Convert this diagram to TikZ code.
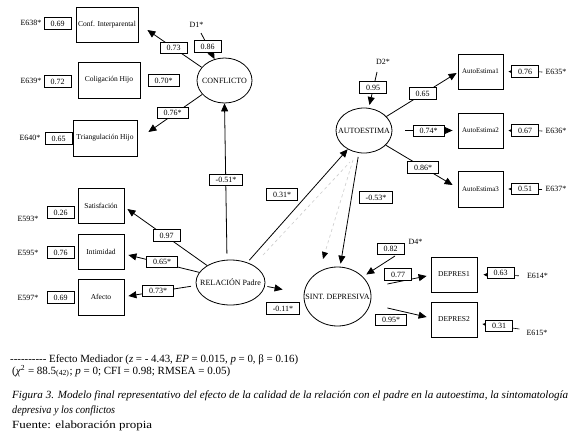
\documentclass[tikz,border=0pt]{standalone}
\usepackage{fontspec}
\setmainfont{Liberation Serif}
\usepackage{graphicx}
\usetikzlibrary{shapes.geometric,arrows.meta,calc}
\newcommand\myfs[1]{\fontsize{#1}{#1}\selectfont}
\newcommand\hy{-\kern0pt}
\begin{document}
\begin{tikzpicture}[x=1pt,y=-1pt,
 ind/.style={draw, line width=0.8pt, inner sep=0pt, font=\myfs{7.5}},
 val/.style={draw, line width=0.7pt, fill=white, inner xsep=6.5pt, inner ysep=0pt, minimum height=11.5pt, font=\myfs{8}},
 lat/.style={draw, ellipse, line width=0.8pt, inner sep=0pt, font=\myfs{8}},
 lab/.style={font=\myfs{8}, inner sep=0pt},
 arr/.style={line width=0.8pt, -{Triangle[length=8pt,width=7pt]}},
 sarr/.style={line width=0.6pt, -{Triangle[length=4.5pt,width=4pt]}},
 med/.style={line width=0.6pt, dash pattern=on 3pt off 3pt, draw=black!20},
 captext/.style={anchor=base west, inner sep=0pt, font=\myfs{11}},
]
\path[use as bounding box, fill=white] (0,0) rectangle (580,439);

% latent variables
\node[lat, minimum width=55pt, minimum height=45pt] (conf) at (224.5,80.5) {\makebox[0pt]{CONFLICTO}};
\node[lat, minimum width=56pt, minimum height=45pt] (auto) at (364,130.5) {\makebox[0pt]{AUTOESTIMA}};
\node[lat, minimum width=69pt, minimum height=45pt] (rel) at (230.5,282.5) {\makebox[0pt]{RELACIÓN Padre}};
\node[lat, minimum width=67pt, minimum height=59pt] (sint) at (337.5,296.5) {\makebox[0pt]{SINT. DEPRESIVA}};

% indicators
\node[ind, minimum width=62pt, minimum height=35pt] (ci) at (107,24.5) {Conf. Interparental};
\node[ind, minimum width=62pt, minimum height=36pt] (cole) at (109,80) {Coligación Hijo};
\node[ind, minimum width=64pt, minimum height=36pt] (tri) at (105,138) {Triangulación Hijo};
\node[ind, minimum width=46pt, minimum height=35pt] (sat) at (101,205.5) {Satisfación};
\node[ind, minimum width=46pt, minimum height=35pt] (inti) at (101,251.5) {Intimidad};
\node[ind, minimum width=46pt, minimum height=36pt] (afe) at (101,297) {Afecto};
\node[ind, minimum width=45pt, minimum height=35pt, font=\myfs{7}] (ae1) at (480.5,71.5) {AutoEstima1};
\node[ind, minimum width=45pt, minimum height=35pt, font=\myfs{7}] (ae2) at (480.5,130.5) {AutoEstima2};
\node[ind, minimum width=45pt, minimum height=36pt, font=\myfs{7}] (ae3) at (480.5,189) {AutoEstima3};
\node[ind, minimum width=46pt, minimum height=35pt] (dep1) at (454,274.5) {DEPRES1};
\node[ind, minimum width=46pt, minimum height=35pt] (dep2) at (454,319.5) {DEPRES2};

% error / disturbance labels
\node[lab] (e638) at (31,23) {E638*};
\node[lab] (e639) at (31,81) {E639*};
\node[lab] (e640) at (30,138) {E640*};
\node[lab] (e593) at (28,219) {E593*};
\node[lab] (e595) at (28,253) {E595*};
\node[lab] (e597) at (28,298) {E597*};
\node[lab] (d1) at (196.5,25) {D1*};
\node[lab] (d2) at (383,62) {D2*};
\node[lab] (d4) at (415.5,242) {D4*};
\node[lab] (e635) at (556,72) {E635*};
\node[lab] (e636) at (556,131) {E636*};
\node[lab] (e637) at (556,189) {E637*};
\node[lab] (e614) at (537.5,276) {E614*};
\node[lab] (e615) at (537,333) {E615*};

% connectors
\draw[arr] (conf.150) -- ($(ci.east)+(9,5.5)$);
\draw[arr] (conf.-148) -- ($(tri.east)+(11,-6)$);
\draw[arr] ($(d1)+(4.5,8)$) -- (conf.115);
\draw[arr, shorten <=6pt] ($(rel.north)+(-3.5,0)$) -- (conf.south);
\draw[arr] (rel.144) -- ($(sat.east)+(3,3.5)$);
\draw[arr] (rel.162) -- ($(inti.east)+(4,3.5)$);
\draw[arr, shorten <=5pt] (rel.185) -- ($(afe.east)+(4,-1)$);
\draw[med] ($(rel)+(32.5,-27.5)$) -- ($(auto)+(-14,31.5)$);
\draw[med, -{Triangle[length=7pt,width=6pt,black]}] ($(auto)+(-11,29.5)$) -- ($(sint)+(-14.5,-37.5)$);
\draw[arr, shorten <=3pt] (rel.50) -- (auto.-131);
\draw[arr, shorten <=4pt, shorten >=3pt] (auto.-103) -- (sint.85);
\draw[arr] ($(rel.east)+(2,4)$) -- ($(sint.west)+(-21,-7)$);
\draw[arr, shorten >=3pt] ($(d2)+(-6,10)$) -- (auto.78);
\draw[arr] (auto.32) -- ($(ae1.west)+(-1,1.5)$);
\draw[arr, shorten <=13pt, shorten >=5pt] (auto.east) -- (ae2.west);
\draw[arr] (auto.-34) -- ($(ae3.west)+(-5,-4)$);
\draw[sarr, shorten <=3pt, shorten >=5pt] (e635.west) -- (ae1.east);
\draw[sarr, shorten <=3pt, shorten >=5pt] (e636.west) -- (ae2.east);
\draw[sarr, shorten <=3pt, shorten >=5pt] (e637.west) -- (ae3.east);
\draw[arr, shorten >=4pt] ($(d4)+(-20.5,14)$) -- (sint.38);
\draw[arr] ($(sint.east)+(16,-12.5)$) -- ($(dep1.west)+(-4,1.5)$);
\draw[arr] ($(sint.east)+(16,11.5)$) -- ($(dep2.west)+(-4,-2.5)$);
\draw[sarr, shorten <=8pt, shorten >=6pt] (e614.west) -- (dep1.east);
\draw[sarr] ($(e615.west)+(-7,-4)$) -- ($(dep2.east)+(5,4.5)$);

% coefficient boxes
\node[val] (v69a) at (57.5,23.5) {0.69};
\node[val] (v72) at (57.5,81.5) {0.72};
\node[val] (v65a) at (58.5,138.5) {0.65};
\node[val] (v73) at (173.5,48) {0.73};
\node[val] (v70) at (163.5,80.5) {0.70*};
\node[val] (v76s) at (172.5,113) {0.76*};
\node[val] (v86) at (207.5,46.5) {0.86};
\node[val] (v26) at (60.5,212.5) {0.26};
\node[val] (v76a) at (60.5,252.5) {0.76};
\node[val] (v69b) at (60.5,297.5) {0.69};
\node[val] (v97) at (166.5,235.5) {0.97};
\node[val] (v65s) at (162,262) {0.65*};
\node[val] (v73s) at (158,291) {0.73*};
\node[val] (v051) at (226,180) {-0.51*};
\node[val] (v031) at (282,194.5) {0.31*};
\node[val] (v011) at (283,308.5) {-0.11*};
\node[val] (v95) at (373,87.5) {0.95};
\node[val] (v65b) at (422.5,93.5) {0.65};
\node[val] (v74) at (428.5,131) {0.74*};
\node[val] (v86s) at (423,167.5) {0.86*};
\node[val] (v053) at (376,197.5) {-0.53*};
\node[val] (v76b) at (525,71.5) {0.76};
\node[val] (v67) at (525,130.5) {0.67};
\node[val] (v51) at (525,189) {0.51};
\node[val] (v82) at (390.5,249) {0.82};
\node[val] (v77) at (398,274.5) {0.77};
\node[val] (v95s) at (391,320) {0.95*};
\node[val] (v63) at (500.5,273) {0.63};
\node[val] (v31) at (499,326) {0.31};

% legend and caption
\node[captext] (leg1) at (10,362) {\resizebox{288pt}{\height}{\textit{\hy\hy\hy\hy\hy\hy\hy\hy\hy\hy} Efecto Mediador (\textit{z} = - 4.43, \textit{EP} = 0.015, \textit{p} = 0, β = 0.16)}};
\node[captext] (leg2) at (12,374) {\resizebox{218pt}{\height}{(\textit{χ}\textsuperscript{2} = 88.5\textsubscript{(42)}; \textit{p} = 0; CFI = 0.98; RMSEA = 0.05)}};
\node[captext] (cap1) at (12,398) {\resizebox{556pt}{\height}{\textit{Figura 3. Modelo final representativo del efecto de la calidad de la relación con el padre en la autoestima, la sintomatología}}};
\node[captext] (cap2) at (12,413) {\resizebox{103pt}{\height}{\textit{depresiva y los conflictos}}};
\node[captext] (fue) at (12,428) {\resizebox{140pt}{\height}{Fuente: elaboración propia}};
\end{tikzpicture}
\end{document}
